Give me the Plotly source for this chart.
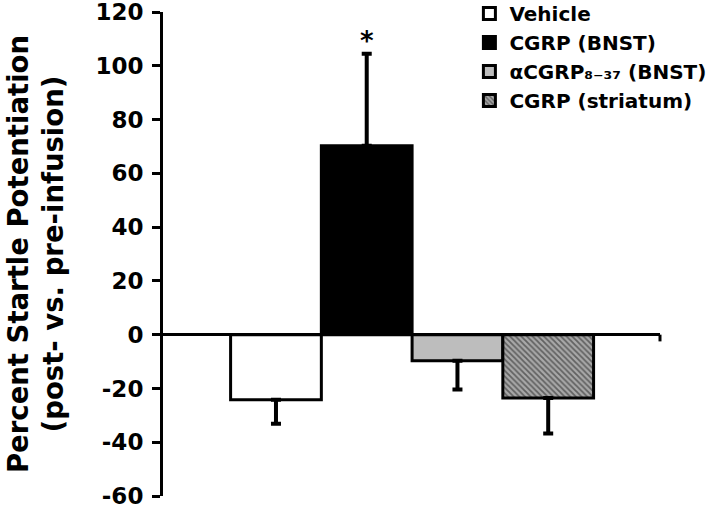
import plotly.graph_objects as go

groups = ["Vehicle", "CGRP (BNST)", "αCGRP₈₋₃₇ (BNST)", "CGRP (striatum)"]
means = [-24.2, 70.3, -9.7, -23.6]
err_up = [0, 34.2, 0, 0]
err_down = [8.9, 0, 10.7, 13.2]
positions = [0, 1, 2, 3]
y_ticks = [-60, -40, -20, 0, 20, 40, 60, 80, 100, 120]
y_tick_labels = ["-60", "-40", "-20", "0", "20", "40", "60", "80", "100", "120"]

fills = ["white", "black", "#bdbdbd", "#7a7a7a"]
patterns = [None, None, None, dict(shape="\\", fgcolor="#1a1a1a", bgcolor="#a8a8a8", size=4, solidity=0.45)]

FONT = "DejaVu Sans"

fig = go.Figure()
for i in range(4):
    marker = dict(color=fills[i], line=dict(color="black", width=3))
    if patterns[i] is not None:
        marker["pattern"] = patterns[i]
    fig.add_trace(go.Bar(
        x=[positions[i]], y=[means[i]], width=1, name=groups[i],
        marker=marker,
        error_y=dict(type="data", symmetric=False, array=[err_up[i]], arrayminus=[err_down[i]],
                     color="black", thickness=4, width=5),
    ))

fig.add_annotation(x=positions[1], y=means[1] + err_up[1], text="<b>*</b>", showarrow=False,
                   yanchor="bottom", yshift=-4, font=dict(family=FONT, size=26, color="black"))

# small tick at right end of zero line
fig.add_shape(type="line", xref="paper", yref="y", x0=1, x1=1, y0=0, y1=-2.5,
              line=dict(color="black", width=3))

fig.update_layout(
    width=720, height=509,
    margin=dict(l=163, r=60, t=12, b=13, autoexpand=False),
    paper_bgcolor="white", plot_bgcolor="white",
    barmode="overlay", showlegend=True,
    font=dict(family=FONT, color="black"),
    legend=dict(x=0.6165, y=1.037, xanchor="left", yanchor="top",
                font=dict(family=FONT, size=20, color="black", weight="bold"),
                bgcolor="rgba(0,0,0,0)", itemwidth=30, tracegroupgap=0),
    xaxis=dict(range=[-1.245, 4.232], showline=False, showticklabels=False, ticks="",
               showgrid=False, zeroline=False),
    yaxis=dict(range=[-60, 120], tickvals=y_ticks, ticktext=y_tick_labels,
               ticks="outside", ticklen=8, tickwidth=3, automargin=False,
               ticklabeloverflow="allow",
               tickcolor="black", showline=True, linewidth=3, linecolor="black",
               showgrid=False, zeroline=True, zerolinewidth=3, zerolinecolor="black",
               tickfont=dict(family=FONT, size=23, color="black", weight="bold"),
               ticklabelstandoff=4,
               title=dict(text="Percent Startle Potentiation<br>(post- vs. pre-infusion)",
                          font=dict(family=FONT, size=27.5, color="black", weight="bold"),
                          standoff=24)),
)

fig.write_html("out.html", config={"displayModeBar": False},
               post_script="document.body.style.margin='0';")
